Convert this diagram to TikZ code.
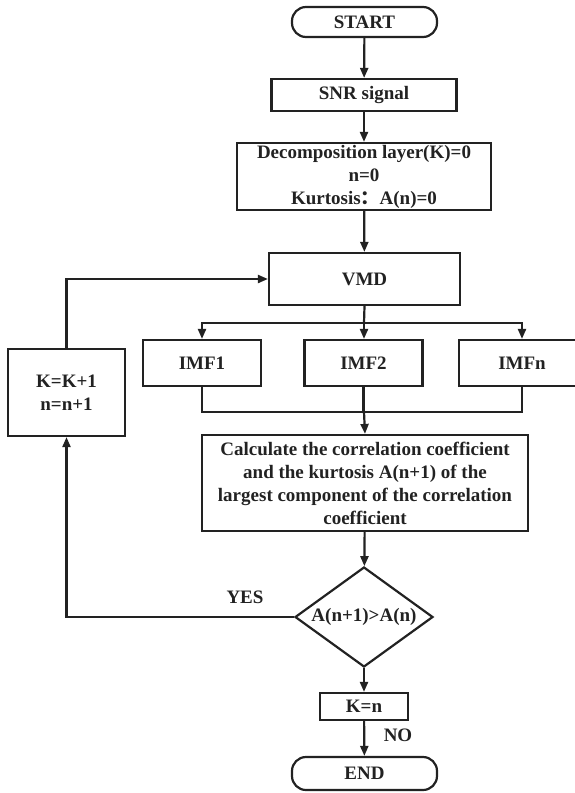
\documentclass[tikz,border=0pt]{standalone}
\usepackage{fontspec}
\setmainfont{Liberation Serif}
\newfontfamily\cjk{Noto Sans CJK SC}
\usetikzlibrary{shapes.geometric,arrows.meta}
\definecolor{ink}{HTML}{222222}
\begin{document}
\begin{tikzpicture}[x=1pt,y=-1pt,
  every node/.style={font=\bfseries\fontsize{19}{23}\selectfont, inner sep=0pt, align=center, text=ink},
  box/.style={draw=ink, line width=2.2pt, rectangle},
  term/.style={draw=ink, line width=2.2pt, rectangle, rounded corners=14pt},
  decision/.style={draw=ink, line width=2.2pt, diamond, aspect=1.38},
  conn/.style={draw=ink, line width=2.2pt, -{Triangle[length=10pt,width=8pt]}},
  plain/.style={draw=ink, line width=2.2pt}]
\useasboundingbox (0,0) rectangle (575,793);
\clip (0,0) rectangle (575,793);
\node[term, minimum width=145, minimum height=30] (start) at (364.5,22) {START};
\node[box, minimum width=185, minimum height=32] (snr) at (364,95) {SNR signal};
\node[box, minimum width=254, minimum height=67] (dec) at (364,176.5) {Decomposition layer(K)=0\\ n=0\\ Kurtosis{\cjk ：}A(n)=0};
\node[box, minimum width=191, minimum height=52] (vmd) at (364.5,279) {VMD};
\node[box, minimum width=118, minimum height=46] (imf1) at (202,363) {IMF1};
\node[box, minimum width=118, minimum height=46] (imf2) at (363.5,363) {IMF2};
\node[box, minimum width=126, minimum height=46] (imfn) at (522,363) {IMFn};
\node[box, minimum width=326, minimum height=96] (calc) at (365,483) {Calculate the correlation coefficient\\ and the kurtosis A(n+1) of the\\ largest component of the correlation\\ coefficient};
\node[decision, minimum width=138, minimum height=100] (dia) at (364,617) {A(n+1)>A(n)};
\node[box, minimum width=88, minimum height=27] (kn) at (364,706.5) {K=n};
\node[term, minimum width=145, minimum height=33] (end) at (364.5,773.5) {END};
\node[box, minimum width=117, minimum height=87] (kk) at (66.5,392.5) {K=K+1\\ n=n+1};
\node (yes) at (245,597) {YES};
\node (no) at (398,735) {NO};
\coordinate (split) at (364,323);
\coordinate (join) at (364,412);
\draw[conn] (start) -- (snr);
\draw[conn] (snr) -- (dec);
\draw[conn] (dec) -- (vmd);
\draw[plain] (vmd.south) -- (split);
\draw[conn] (split) -| (imf1.north);
\draw[conn] (split) -| (imfn.north);
\draw[conn] (split) -- (split |- imf2.north);
\draw[plain] (imf1.south) |- (join) -| (imfn.south);
\draw[plain] (imf2.south) -- (imf2.south |- join);
\draw[conn] (join) -- (calc.north);
\draw[conn] (calc) -- (dia);
\draw[conn] (dia.west) -| (kk.south);
\draw[conn] (kk.north) |- (vmd.west);
\draw[conn] (dia) -- (kn);
\draw[conn] (kn) -- (end);
\end{tikzpicture}
\end{document}
